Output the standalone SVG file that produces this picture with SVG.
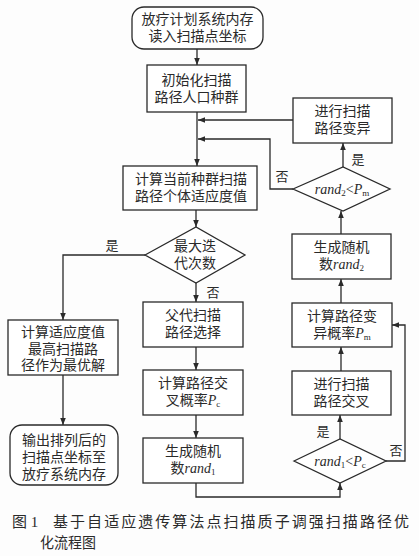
<svg xmlns="http://www.w3.org/2000/svg" width="419" height="556" viewBox="0 0 419 556">
<defs>
<marker id="arr" viewBox="0 0 10 10" refX="10" refY="5" markerWidth="7" markerHeight="7" markerUnits="userSpaceOnUse" orient="auto">
<path d="M0,1 L10,5 L0,9 Z" fill="#2a2a2a"/>
</marker>
<style>
.box{fill:#fff;stroke:#2a2a2a;stroke-width:1.3}
.ln{fill:none;stroke:#2a2a2a;stroke-width:1.3}
.t{font-family:"Liberation Serif","Noto Sans CJK SC",serif;font-size:14px;fill:#2a2a2a;text-anchor:middle}
.lb{font-family:"Liberation Serif","Noto Sans CJK SC",serif;font-size:13px;fill:#2a2a2a;text-anchor:middle}
.it{font-family:"Liberation Serif",serif;font-style:italic}
.sub{font-family:"Liberation Serif",serif;font-size:9px}
.cap{font-family:"Liberation Serif","Noto Sans CJK SC",serif;font-size:15px;fill:#2a2a2a}
</style>
</defs>
<rect width="419" height="556" fill="#fdfdfd"/>

<g id="connectors">
<line class="ln" x1="197" y1="49" x2="197" y2="65" marker-end="url(#arr)"/>
<line class="ln" x1="197" y1="112" x2="197" y2="166" marker-end="url(#arr)"/>
<line class="ln" x1="293" y1="120" x2="198" y2="120" marker-end="url(#arr)"/>
<polyline class="ln" points="293,189 270,189 270,139 198,139" marker-end="url(#arr)"/>
<line class="ln" x1="196" y1="210" x2="196" y2="227" marker-end="url(#arr)"/>
<polyline class="ln" points="145,255 63,255 63,320" marker-end="url(#arr)"/>
<line class="ln" x1="196" y1="283" x2="196" y2="302" marker-end="url(#arr)"/>
<line class="ln" x1="196" y1="347" x2="196" y2="370" marker-end="url(#arr)"/>
<line class="ln" x1="196" y1="415" x2="196" y2="438" marker-end="url(#arr)"/>
<polyline class="ln" points="196,483 196,497 340,497 340,483" marker-end="url(#arr)"/>
<line class="ln" x1="340" y1="439" x2="340" y2="415" marker-end="url(#arr)"/>
<line class="ln" x1="341" y1="371" x2="341" y2="347" marker-end="url(#arr)"/>
<polyline class="ln" points="386,461 405,461 405,325 392,325" marker-end="url(#arr)"/>
<line class="ln" x1="341" y1="303" x2="341" y2="279" marker-end="url(#arr)"/>
<line class="ln" x1="341" y1="234" x2="341" y2="211" marker-end="url(#arr)"/>
<line class="ln" x1="343" y1="167" x2="343" y2="143" marker-end="url(#arr)"/>
<line class="ln" x1="63" y1="375" x2="63" y2="425" marker-end="url(#arr)"/>
<text class="lb" x="112" y="250">是</text>
<text class="lb" x="213" y="297">否</text>
<text class="lb" x="282" y="181">否</text>
<text class="lb" x="358" y="164">是</text>
<text class="lb" x="323" y="436">是</text>
<text class="lb" x="396" y="455">否</text>
</g>

<g id="start">
<rect class="box" x="132" y="7" width="131" height="42" rx="12"/>
<text class="t" x="197.5" y="24">放疗计划系统内存<tspan x="197.5" dy="17">读入扫描点坐标</tspan></text>
</g>

<g id="init">
<rect class="box" x="147" y="65" width="99" height="47"/>
<text class="t" x="196.5" y="85">初始化扫描<tspan x="196.5" dy="17">路径人口种群</tspan></text>
</g>

<g id="fitness">
<rect class="box" x="123" y="166" width="134" height="44"/>
<text class="t" x="191" y="184">计算当前种群扫描<tspan x="191" dy="17">路径个体适应度值</tspan></text>
</g>

<g id="maxiter">
<polygon class="box" points="145,255 196,227 245,255 196,283"/>
<text class="t" x="195" y="251">最大迭<tspan x="195" dy="17">代次数</tspan></text>
</g>

<g id="parent">
<rect class="box" x="143" y="302" width="100" height="45"/>
<text class="t" x="193" y="320">父代扫描<tspan x="193" dy="17">路径选择</tspan></text>
</g>

<g id="pc">
<rect class="box" x="143" y="370" width="100" height="45"/>
<text class="t" x="193" y="388">计算路径交<tspan x="193" dy="17">叉概率</tspan><tspan class="it">P</tspan><tspan class="sub" dy="2">c</tspan></text>
</g>

<g id="rand1">
<rect class="box" x="143" y="438" width="100" height="45"/>
<text class="t" x="193" y="456">生成随机<tspan x="193" dy="17">数</tspan><tspan class="it">rand</tspan><tspan class="sub" dy="2">1</tspan></text>
</g>

<g id="best">
<rect class="box" x="8" y="320" width="110" height="55"/>
<text class="t" x="63" y="337">计算适应度值<tspan x="63" dy="16.5">最高扫描路</tspan><tspan x="63" dy="16.5">径作为最优解</tspan></text>
</g>

<g id="output">
<rect class="box" x="10" y="425" width="108" height="60" rx="12"/>
<text class="t" x="64" y="445">输出排列后的<tspan x="64" dy="17">扫描点坐标至</tspan><tspan x="64" dy="17">放疗系统内存</tspan></text>
</g>

<g id="cond1">
<polygon class="box" points="294,461 340,439 386,461 340,483"/>
<text class="t" x="340" y="466"><tspan class="it">rand</tspan><tspan class="sub" dy="2">1</tspan><tspan dy="-2">&lt;</tspan><tspan class="it">P</tspan><tspan class="sub" dy="2">c</tspan></text>
</g>

<g id="cross">
<rect class="box" x="292" y="371" width="99" height="44"/>
<text class="t" x="341.5" y="389">进行扫描<tspan x="341.5" dy="17">路径交叉</tspan></text>
</g>

<g id="pm">
<rect class="box" x="292" y="303" width="100" height="44"/>
<text class="t" x="342" y="321">计算路径变<tspan x="342" dy="17">异概率</tspan><tspan class="it">P</tspan><tspan class="sub" dy="2">m</tspan></text>
</g>

<g id="rand2">
<rect class="box" x="292" y="234" width="99" height="45"/>
<text class="t" x="341.5" y="252">生成随机<tspan x="341.5" dy="17">数</tspan><tspan class="it">rand</tspan><tspan class="sub" dy="2">2</tspan></text>
</g>

<g id="cond2">
<polygon class="box" points="293,189 343,167 390,189 343,211"/>
<text class="t" x="342" y="194"><tspan class="it">rand</tspan><tspan class="sub" dy="2">2</tspan><tspan dy="-2">&lt;</tspan><tspan class="it">P</tspan><tspan class="sub" dy="2">m</tspan></text>
</g>

<g id="mutation">
<rect class="box" x="293" y="98" width="99" height="45"/>
<text class="t" x="342.5" y="116">进行扫描<tspan x="342.5" dy="17">路径变异</tspan></text>
</g>

<g id="caption">
<text class="cap" x="12" y="527">图 1</text>
<text class="cap" x="53" y="527" textLength="356" lengthAdjust="spacing">基于自适应遗传算法点扫描质子调强扫描路径优</text>
<text class="cap" x="40" y="548" textLength="56" lengthAdjust="spacingAndGlyphs">化流程图</text>
</g>
</svg>
